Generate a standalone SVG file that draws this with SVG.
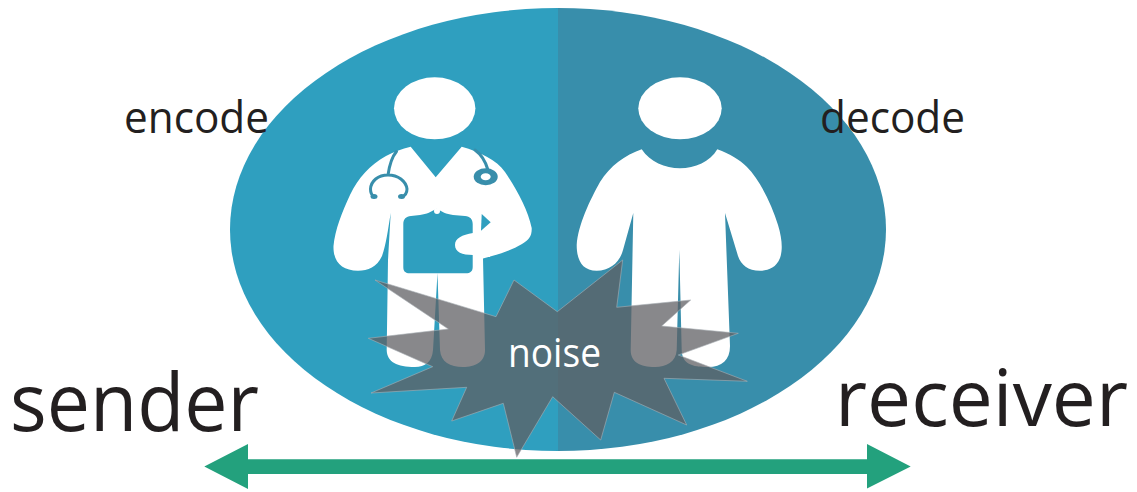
<svg xmlns="http://www.w3.org/2000/svg" width="1137" height="492" viewBox="0 0 1137 492">
<style>
text{font-family:"Open Sans","Noto Sans",sans-serif;fill:#231f20}
.w{fill:#fff}
.s{fill:none;stroke:#388eab;stroke-width:3;stroke-linecap:round}
.b{fill:#2f9fbf}
.d{fill:#388eab}
</style>
<defs>
<clipPath id="lh"><rect x="220" y="0" width="338" height="492"/></clipPath>
<clipPath id="rh"><rect x="558" y="0" width="338" height="492"/></clipPath>
</defs>
<rect width="1137" height="492" fill="#fff"/>
<g id="disc">
<ellipse cx="558" cy="229.5" rx="328" ry="221.5" fill="#2f9fbf" clip-path="url(#lh)"/>
<ellipse cx="558" cy="229.5" rx="328" ry="221.5" fill="#388eab" clip-path="url(#rh)"/>
</g>
<g id="doctor">
<ellipse class="w" cx="434.7" cy="108.3" rx="40.7" ry="31"/>
<path class="w" d="M410.7 146.7L435.7 177.3L461.7 146.7C480 152 497 160 505 172C517 190 528 210 531.7 228C532 236 529 240 522 244C510 251 497 255 483 258.5L485 350C485 362 475 367 463 367C450 367 441 362 440 350L437.5 273L433 350C432 362 425 367 415 367C397 367 387 362 386.7 350L388 260L390.7 213C388 230 386 245 382 256C377 267 368 270.7 358 270.7C342 270.7 333 262 333.5 246C335 230 342 212 350 195C358 178 370 165 386 156C393 152 402 149 410.7 146.7Z"/>
<path class="b" d="M403.3 224C403.3 219 406 216.5 411 216L420 215C427 214 431 212 436.7 208.5C442 212 446 214 453 215L465 216C470 216.5 472.7 219 472.7 224L472.7 267C472.7 271.5 470 273.3 466 273.3L410 273.3C405 273.3 403.3 271 403.3 267Z"/>
<circle class="w" cx="437" cy="211" r="3"/>
<path class="w" d="M473 233C462 235 455 238 455 245C455 252 462 255 473 255L490 257L490 232Z"/>
<path class="b" d="M481.7 214L490.7 222.3L481 230.7Z"/>
<path class="s" d="M396.5 151.5C391 158 389 168 388 175C378 175 371 181 370.5 189C370.5 193 372 195.5 374 197M388 175C398 175 406 181 407 189C407 193 405 195.5 402 197"/>
<ellipse class="d" cx="374" cy="196.5" rx="3.5" ry="2.5"/>
<ellipse class="d" cx="401.5" cy="196.5" rx="3.5" ry="2.5"/>
<path class="s" d="M475 150C482 155 486 163 488 170"/>
<ellipse class="d" cx="485.7" cy="176.7" rx="12" ry="8.5"/>
<ellipse class="w" cx="485.7" cy="176.7" rx="5" ry="3.5"/>
</g>
<g id="patient">
<ellipse class="w" cx="680" cy="108.3" rx="41.7" ry="31"/>
<path class="w" d="M641.7 149.3C650 162 665 168.3 680 168.3C695 168.3 710 162 717.3 149.3C730 154 740 160 746.7 166.7C760 180 772 205 778 225C782 238 783 250 780 258C776 268 768 270.7 760 270.7C748 270.7 741 265 738 256L725 213L730 346C730 360 722 367 708 367C692 367 682 364 681.7 350L679.3 250L676.7 350C676 362 666 367 655 367C640 367 630.7 362 630.7 350L633.3 213L623 250C620 262 610 270.7 596.7 270.7C582 270.7 576.7 260 576.7 245C578 225 590 200 600 182C610 166 625 155 641.7 149.3Z"/>
</g>
<g id="noise">
<path fill="#5e5e62" fill-opacity="0.74" stroke="#a9b0b5" stroke-width="0.6" d="M375 280L496 316.7L514 280L557.3 311.7L622.7 260L616.7 307.3L690.7 300L661.7 326L738.3 333.3L678.3 355L747.3 381.3L664 378.3L686.7 425L614.3 392.3L600.7 440L552.7 396.7L516.7 457.3L503.3 403.3L451.7 421L466.7 387.3L371 393L432.7 366.7L368.3 338.3L448.3 329Z"/>
<text x="508" y="367" font-size="40" textLength="93" lengthAdjust="spacingAndGlyphs" style="fill:#fff">noise</text>
</g>
<g id="connectors">
<path fill="#23a17d" d="M204.3 466.500L248 444V459.300H867V444L910.700 466.500L867 488.500V474H248V489Z"/>
</g>
<text id="encode" x="124" y="133" font-size="44" textLength="145" lengthAdjust="spacingAndGlyphs">encode</text>
<text id="decode" x="820" y="133" font-size="44" textLength="145" lengthAdjust="spacingAndGlyphs">decode</text>
<text id="sender" x="10" y="431" font-size="80" textLength="249" lengthAdjust="spacingAndGlyphs">sender</text>
<text id="receiver" x="835" y="425.500" font-size="79" textLength="293" lengthAdjust="spacingAndGlyphs">receiver</text>
</svg>
